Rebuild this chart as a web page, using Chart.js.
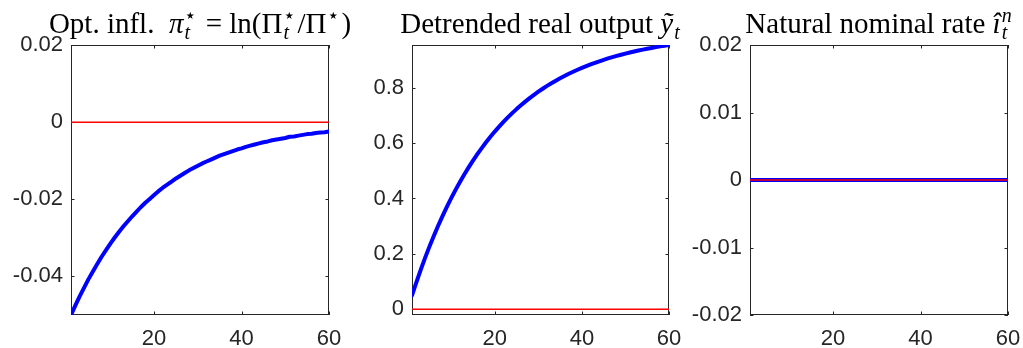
<!DOCTYPE html>
<html>
<head>
<meta charset="utf-8">
<script src="https://cdn.jsdelivr.net/npm/chart.js@4.4.1/dist/chart.umd.min.js"></script>
<style>
  body { margin: 0; background: #fff; }
  #wrap { position: relative; width: 1023px; height: 348px; overflow: hidden; background: #fff; }
  canvas { position: absolute; top: 0; }
</style>
</head>
<body>
<div id="wrap">
  <canvas id="c1" width="365" height="348" style="left:0px"></canvas>
  <canvas id="c2" width="345" height="348" style="left:345px"></canvas>
  <canvas id="c3" width="333" height="348" style="left:690px"></canvas>
</div>
<script>
// periods of the impulse response
var periods = [1, 2, 3, 4, 5, 6, 7, 8, 9, 10, 11, 12, 13, 14, 15, 16, 17, 18, 19, 20,
    21, 22, 23, 24, 25, 26, 27, 28, 29, 30, 31, 32, 33, 34, 35, 36, 37, 38, 39, 40,
    41, 42, 43, 44, 45, 46, 47, 48, 49, 50, 51, 52, 53, 54, 55, 56, 57, 58, 59, 60];

var optInfl = [-0.0500, -0.0475, -0.0451, -0.0429, -0.0407, -0.0387, -0.0368, -0.0349, -0.0332, -0.0315,
    -0.0299, -0.0284, -0.0270, -0.0257, -0.0244, -0.0232, -0.0220, -0.0209, -0.0199, -0.0189,
    -0.0179, -0.0170, -0.0162, -0.0154, -0.0146, -0.0139, -0.0132, -0.0125, -0.0119, -0.0113,
    -0.0107, -0.0102, -0.0097, -0.0092, -0.0087, -0.0083, -0.0079, -0.0075, -0.0071, -0.0068,
    -0.0064, -0.0061, -0.0058, -0.0055, -0.0052, -0.0050, -0.0047, -0.0045, -0.0043, -0.0041,
    -0.0038, -0.0037, -0.0035, -0.0033, -0.0031, -0.0030, -0.0028, -0.0027, -0.0026, -0.0024];

// detrended real output (panel 2)
var outputGap = [0.0500, 0.0975, 0.1426, 0.1855, 0.2262, 0.2649, 0.3017, 0.3366, 0.3698, 0.4013,
    0.4312, 0.4596, 0.4867, 0.5123, 0.5367, 0.5599, 0.5819, 0.6028, 0.6226, 0.6415,
    0.6594, 0.6765, 0.6926, 0.7080, 0.7226, 0.7365, 0.7497, 0.7622, 0.7741, 0.7854,
    0.7961, 0.8063, 0.8160, 0.8252, 0.8339, 0.8422, 0.8501, 0.8576, 0.8647, 0.8715,
    0.8779, 0.8840, 0.8898, 0.8953, 0.9006, 0.9055, 0.9103, 0.9147, 0.9190, 0.9231,
    0.9269, 0.9306, 0.9340, 0.9373, 0.9405, 0.9434, 0.9463, 0.9490, 0.9515, 0.9539];

// natural nominal rate (panel 3), flat at zero
var natRate = [0, 0, 0, 0, 0, 0, 0, 0, 0, 0, 0, 0, 0, 0, 0, 0, 0, 0, 0, 0,
    0, 0, 0, 0, 0, 0, 0, 0, 0, 0, 0, 0, 0, 0, 0, 0, 0, 0, 0, 0,
    0, 0, 0, 0, 0, 0, 0, 0, 0, 0, 0, 0, 0, 0, 0, 0, 0, 0, 0, 0];

// red zero reference line
var refX = [1, 60];
var refY = [0, 0];

var xTicks = [20, 40, 60];
var yTicks1 = [-0.04, -0.02, 0, 0.02];
var yTicks2 = [0, 0.2, 0.4, 0.6, 0.8];
var yTicks3 = [-0.02, -0.01, 0, 0.01, 0.02];

var AXIS_COLOR = '#262626';
var TICK_FONT = {family: '"Liberation Sans", Arial, sans-serif', size: 22};
var TITLE_FAMILY = '"Liberation Serif", "DejaVu Serif", serif';
var TITLE_SIZE = 29;

function toPoints(xs, ys) {
    var out = [];
    for (var i = 0; i < xs.length; i++) {
        out.push({x: xs[i], y: ys[i]});
    }
    return out;
}

// matlab-like box with inward ticks on all four sides
var boxPlugin = {
    id: 'matBox',
    beforeDatasetsDraw: function (chart) {
        var ctx = chart.ctx, a = chart.chartArea;
        var xs = chart.scales.x, ys = chart.scales.y;
        var len = 3.5;
        ctx.save();
        ctx.strokeStyle = AXIS_COLOR;
        ctx.lineWidth = 1;
        ctx.strokeRect(a.left + 0.5, a.top + 0.5, a.right - a.left - 1, a.bottom - a.top - 1);
        ctx.beginPath();
        xs.ticks.forEach(function (t) {
            var px = Math.round(xs.getPixelForValue(t.value)) + 0.5;
            ctx.moveTo(px, a.bottom);
            ctx.lineTo(px, a.bottom - len);
            ctx.moveTo(px, a.top);
            ctx.lineTo(px, a.top + len);
        });
        ys.ticks.forEach(function (t) {
            var py = Math.round(ys.getPixelForValue(t.value)) + 0.5;
            ctx.moveTo(a.left, py);
            ctx.lineTo(a.left + len, py);
            ctx.moveTo(a.right, py);
            ctx.lineTo(a.right - len, py);
        });
        ctx.stroke();
        ctx.restore();
    }
};

// title with latex-ish super/subscripts
var titlePlugin = {
    id: 'richTitle',
    afterDraw: function (chart, args, opts) {
        var ctx = chart.ctx, a = chart.chartArea;
        var parts = opts.parts || [];
        var size = TITLE_SIZE, small = Math.round(size * 0.7);
        var font = function (it, sz) {
            return (it ? 'italic ' : '') + sz + 'px ' + TITLE_FAMILY;
        };
        ctx.save();
        // measure
        var widths = parts.map(function (p) {
            if (p.t !== undefined) {
                ctx.font = font(p.i, size);
                return ctx.measureText(p.t).width;
            }
            var w = 0;
            if (p.sup) { ctx.font = font(p.supI, small); w = Math.max(w, ctx.measureText(p.sup).width); }
            if (p.sub) { ctx.font = font(true, small); w = Math.max(w, ctx.measureText(p.sub).width); }
            return w + 2;
        });
        var total = widths.reduce(function (s, w) { return s + w; }, 0);
        var x = (a.left + a.right) / 2 - total / 2;
        var base = opts.baseline;
        ctx.fillStyle = '#000';
        ctx.textBaseline = 'alphabetic';
        ctx.textAlign = 'left';
        parts.forEach(function (p, k) {
            if (p.t !== undefined) {
                ctx.font = font(p.i, size);
                ctx.fillText(p.t, x, base);
            } else {
                if (p.sup) { ctx.font = font(p.supI, small); ctx.fillText(p.sup, x + 1, base - size * 0.38); }
                if (p.sub) { ctx.font = font(true, small); ctx.fillText(p.sub, x + 1, base + size * 0.2); }
            }
            x += widths[k];
        });
        ctx.restore();
    }
};

function makePanel(id, opts) {
    var ticksY = opts.yTicks;
    return new Chart(document.getElementById(id), {
        type: 'line',
        data: {
            datasets: [
                {
                    data: toPoints(refX, refY),
                    borderColor: '#ff0000',
                    borderWidth: 1.5,
                    pointRadius: 0,
                    order: 0
                },
                {
                    data: toPoints(periods, opts.values),
                    borderColor: '#0000ff',
                    borderWidth: 4,
                    pointRadius: 0,
                    borderJoinStyle: 'round',
                    borderCapStyle: 'round',
                    order: 1
                }
            ]
        },
        options: {
            responsive: false,
            animation: false,
            layout: {padding: {top: 45, right: opts.padRight, left: 0, bottom: 0}},
            plugins: {
                legend: {display: false},
                tooltip: {enabled: false},
                title: {display: false},
                richTitle: {parts: opts.title, baseline: 33}
            },
            scales: {
                x: {
                    type: 'linear',
                    min: 1,
                    max: 60,
                    grid: {display: false, drawTicks: false},
                    border: {display: false},
                    afterBuildTicks: function (scale) {
                        scale.ticks = xTicks.map(function (v) { return {value: v}; });
                    },
                    afterFit: function (scale) {
                        scale.height = 33;
                        // don't let the "60" label eat into the plot width
                        scale.paddingLeft = 0;
                        scale.paddingRight = 0;
                    },
                    ticks: {
                        color: AXIS_COLOR,
                        font: TICK_FONT,
                        padding: 11,
                        maxRotation: 0,
                        autoSkip: false,
                        callback: function (v) { return String(v); }
                    }
                },
                y: {
                    type: 'linear',
                    min: opts.yMin,
                    max: opts.yMax,
                    grid: {display: false, drawTicks: false},
                    border: {display: false},
                    afterBuildTicks: function (scale) {
                        scale.ticks = ticksY.map(function (v) { return {value: v}; });
                    },
                    afterFit: function (scale) {
                        scale.width = opts.axisWidth;
                        scale.paddingTop = 0;
                        scale.paddingBottom = 0;
                    },
                    ticks: {
                        color: AXIS_COLOR,
                        font: TICK_FONT,
                        padding: 8,
                        autoSkip: false,
                        callback: function (v) { return String(v); }
                    }
                }
            }
        },
        plugins: [boxPlugin, titlePlugin]
    });
}

makePanel('c1', {
    values: optInfl, yMin: -0.05, yMax: 0.02, yTicks: yTicks1,
    axisWidth: 71, padRight: 36,
    title: [
        {t: 'Opt. infl.  '}, {t: 'π', i: true}, {sup: '⋆', sub: 't'},
        {t: ' = ln(Π'}, {sup: '⋆', sub: 't'}, {t: '/Π'}, {sup: '⋆'}, {t: ')'}
    ]
});

makePanel('c2', {
    values: outputGap, yMin: -0.0205, yMax: 0.954, yTicks: yTicks2,
    axisWidth: 67, padRight: 21,
    title: [{t: 'Detrended real output '}, {t: 'ỹ', i: true}, {sub: 't'}]
});

makePanel('c3', {
    values: natRate, yMin: -0.02, yMax: 0.02, yTicks: yTicks3,
    axisWidth: 60, padRight: 15,
    title: [{t: 'Natural nominal rate '}, {t: 'î', i: true}, {sup: 'n', supI: true, sub: 't'}]
});
</script>
</body>
</html>
